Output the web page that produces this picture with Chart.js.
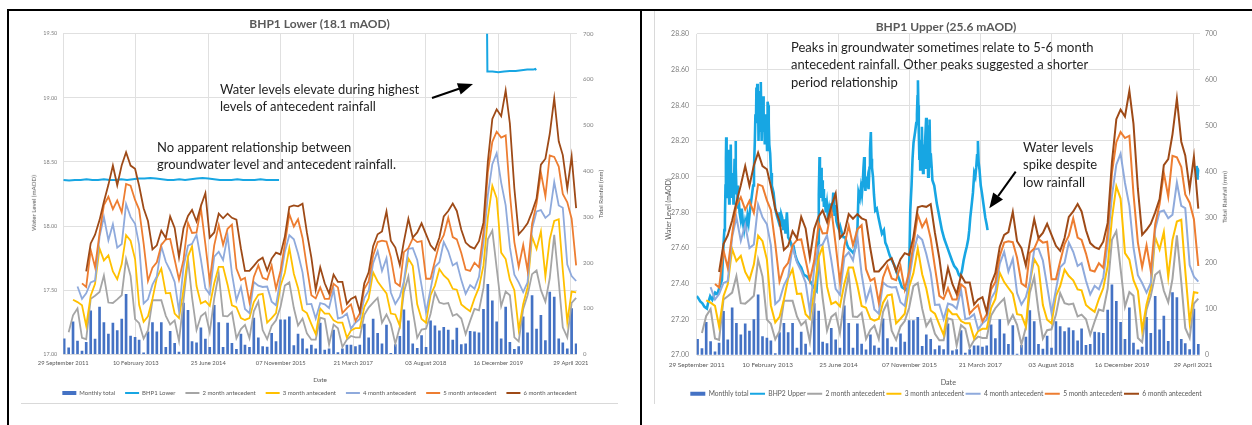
<!DOCTYPE html>
<html>
<head>
<meta charset="utf-8">
<title>BHP1 groundwater levels and antecedent rainfall</title>
<script src="https://cdn.jsdelivr.net/npm/chart.js@4.4.1/dist/chart.umd.min.js"></script>
<style>
  html, body { margin:0; padding:0; background:#fff; }
  body { position:relative; width:1252px; height:425px; overflow:hidden; font-family:Lato, "Open Sans", sans-serif; }
  .rule { position:absolute; background:#000; }
  .edge { position:absolute; background:#d9d9d9; }
  canvas { position:absolute; }
  .note { position:absolute; font-family:Lato, sans-serif; font-size:13px; line-height:17.3px; color:#1f1f1f; white-space:nowrap; }
  .axt { position:absolute; white-space:nowrap; color:#595959; line-height:1; font-family:Lato, sans-serif; transform:translate(-50%,-50%) rotate(-90deg); }
  svg.arrows { position:absolute; left:0; top:0; }
</style>
</head>
<body>
<div class="rule" style="left:7px;top:9px;width:1245px;height:2px"></div>
<div class="rule" style="left:7px;top:9px;width:2px;height:416px"></div>
<div class="rule" style="left:640px;top:9px;width:2px;height:416px"></div>
<div class="edge" style="left:21px;top:403px;width:597px;height:1px"></div>
<div class="edge" style="left:654px;top:11px;width:1px;height:393px"></div>

<canvas id="lower" width="597" height="395" style="left:21px;top:11px"></canvas>
<canvas id="upper" width="584" height="396" style="left:654px;top:11px"></canvas>

<div class="axt" style="left:34px;top:203px;font-size:6.2px">Water Level (mAOD)</div>
<div class="axt" style="left:601px;top:194px;font-size:6px">Total Rainfall (mm)</div>
<div class="axt" style="left:668px;top:209px;font-size:6.8px">Water Level (mAOD)</div>
<div class="axt" style="left:1225px;top:197px;font-size:6.5px">Total Rainfall (mm)</div>

<div class="note" style="left:220px;top:81px">Water levels elevate during highest<br>levels of antecedent rainfall</div>
<div class="note" style="left:157px;top:139px">No apparent relationship between<br>groundwater level and antecedent rainfall.</div>
<div class="note" style="left:791px;top:39px">Peaks in groundwater sometimes relate to 5-6 month<br>antecedent rainfall. Other peaks suggested a shorter<br>period relationship</div>
<div class="note" style="left:1023px;top:139px">Water levels<br>spike despite<br>low rainfall</div>

<svg class="arrows" width="1252" height="425">
  <line x1="432" y1="98" x2="459" y2="88.8" stroke="#000" stroke-width="2"/>
  <polygon points="473,84 460.7,94.5 456.9,83.2" fill="#000"/>
  <line x1="1015.7" y1="171.7" x2="998.1" y2="196.1" stroke="#000" stroke-width="2"/>
  <polygon points="989.3,208.3 1003,199.6 993.2,192.6" fill="#000"/>
</svg>

<script>
// ---- x axis: days since 29 September 2011, major unit 500 days ----
const TICK_STEP_DAYS = 500;
const tickLabels = ['29 September 2011','10 February 2013','25 June 2014','07 November 2015',
                    '21 March 2017','03 August 2018','16 December 2019','29 April 2021'];
const AXIS_START = Date.UTC(2011, 8, 29);
const FIRST_MONTH = { year: 2011, month: 9 };   // October 2011

// ---- monthly rainfall total (mm), Oct 2011 .. Jun 2021 ----
const monthlyRain = [34,14,71,29,7,26,95,33,103,69,
  44,68,52,77,131,40,37,31,3,49,
  69,49,69,15,50,24,5,112,96,28,
  25,58,33,15,107,69,15,68,24,11,
  44,20,15,79,36,17,16,46,28,75,
  75,82,19,44,34,12,20,12,68,9,
  12,53,4,12,20,20,17,20,66,36,
  77,46,23,64,2,21,39,97,73,23,
  13,41,15,73,62,51,59,53,31,57,
  21,23,50,49,47,98,153,117,71,34,
  103,26,11,17,82,47,128,55,85,30,
  136,125,34,25,12,100,23];

// ---- antecedent rainfall (mm) ----
const ante2 = [null,48,85,100,36,33,121,128,136,172,
  113,112,120,129,208,171,77,68,34,52,
  118,118,118,84,65,74,29,117,208,124,
  53,83,91,48,122,176,84,83,92,35,
  55,64,35,94,115,53,33,62,74,103,
  150,157,101,63,78,46,32,32,80,77,
  21,65,57,16,32,40,37,37,86,102,
  113,123,69,87,66,23,60,136,170,96,
  36,54,56,88,135,113,110,112,84,88,
  78,44,73,99,96,145,251,270,188,105,
  137,129,37,28,99,129,175,183,140,115,
  166,261,159,59,37,112,123];
const ante3 = [null,null,119,114,107,62,128,154,231,205,
  216,181,164,197,260,248,208,108,71,83,
  121,167,187,133,134,89,79,141,213,236,
  149,111,116,106,155,191,191,152,107,103,
  79,75,79,114,130,132,69,79,90,149,
  178,232,176,145,97,90,66,44,100,89,
  89,74,69,69,36,52,57,57,103,122,
  179,159,146,133,89,87,62,157,209,193,
  109,77,69,129,150,186,172,163,143,141,
  109,101,94,122,146,194,298,368,341,222,
  208,163,140,54,110,146,257,230,268,170,
  251,291,295,184,71,137,135];
const ante4 = [null,null,null,148,121,133,157,161,257,300,
  249,284,233,241,328,300,285,239,111,120,
  152,170,236,202,183,158,94,191,237,241,
  261,207,144,131,213,224,206,259,176,118,
  147,99,90,158,150,147,148,115,107,165,
  224,260,251,220,179,109,110,78,112,109,
  101,142,78,81,89,56,69,77,123,139,
  199,225,182,210,135,110,126,159,230,232,
  206,150,92,142,191,201,245,225,194,200,
  162,132,151,143,169,244,347,415,439,375,
  325,234,174,157,136,157,274,312,315,298,
  306,376,325,320,196,171,160];
const ante5 = [null,null,null,null,155,147,228,190,264,326,
  344,317,336,310,372,368,337,316,242,160,
  189,201,239,251,252,207,163,206,287,265,
  266,319,240,159,238,282,239,274,283,187,
  162,167,114,169,194,167,163,194,143,182,
  240,306,279,295,254,191,129,122,146,121,
  121,154,146,90,101,109,73,89,143,159,
  216,245,248,246,212,156,149,223,232,253,
  245,247,165,165,204,242,260,298,256,251,
  221,185,182,200,190,267,397,464,486,473,
  478,351,245,191,239,183,285,329,397,345,
  434,431,410,350,332,296,194];
const ante6 = [null,null,null,null,null,181,242,261,293,333,
  370,412,369,413,441,412,405,368,319,291,
  229,238,270,254,301,276,212,275,302,315,
  290,324,352,255,266,307,297,307,298,294,
  231,182,182,193,205,211,183,209,222,218,
  257,322,325,323,329,266,211,141,190,155,
  133,174,158,158,110,121,126,93,155,179,
  236,262,268,312,248,233,195,246,296,255,
  266,286,262,238,227,255,301,313,329,313,
  272,244,235,231,247,288,420,514,535,520,
  576,504,362,262,273,286,311,340,414,427,
  481,559,465,435,362,432,319];

// ---- groundwater level readings [day since 29 Sep 2011, level mAOD] ----
const lowerReadings = [[0,18.36],[40,18.355],[80,18.36],[120,18.36],[160,18.365],[200,18.36],[240,18.36],
  [280,18.365],[320,18.36],[360,18.36],[400,18.365],[440,18.36],[480,18.365],[520,18.37],[560,18.37],
  [600,18.375],[640,18.37],[680,18.365],[720,18.36],[760,18.36],[800,18.365],[840,18.36],[880,18.365],
  [920,18.37],[960,18.375],[1000,18.37],[1040,18.365],[1080,18.36],[1120,18.36],[1160,18.36],[1200,18.365],
  [1240,18.36],[1280,18.36],[1320,18.36],[1360,18.365],[1400,18.36],[1440,18.36],[1488,18.36],
  [2200,null],
  [2922,19.62],[2925,19.205],[2960,19.205],[3000,19.2],[3040,19.205],[3080,19.21],[3120,19.21],
  [3160,19.215],[3200,19.22],[3240,19.22],[3255,19.225],[3261,19.215]];

const upperReadings = [[0,27.33],[10,27.32],[25,27.3],[40,27.29],[55,27.27],[72,27.26],[80,27.29],[95,27.33],
  [110,27.31],[130,27.35],[145,27.34],[161,27.38],[170,27.4],[178,27.42],[185,27.55],[189,27.62],[195,27.7],
  [199,27.76],[203,27.95],[206,28.1],[208,28.22],[211,28.05],[214,27.92],[217,28.0],[220,27.88],[223,28.15],
  [226,27.95],[229,27.85],[232,28.0],[236,27.9],[240,28.18],[243,27.98],[247,27.88],[251,27.92],[255,28.02],
  [259,27.85],[263,27.95],[267,28.1],[271,27.92],[274,28.2],[277,28.05],[281,27.9],[285,27.95],[290,27.82],
  [296,27.88],[302,27.8],[310,27.76],[318,27.82],[326,27.74],[334,27.7],[342,27.75],[350,27.72],[358,27.78],
  [366,27.74],[374,27.8],[382,27.85],[390,27.9],[398,27.95],[404,28.05],[410,28.2],[414,28.35],[418,28.3],
  [421,28.5],[424,28.38],[427,28.52],[430,28.3],[433,28.42],[436,28.2],[440,28.38],[443,28.25],[446,28.48],
  [449,28.3],[452,28.53],[455,28.35],[458,28.2],[461,28.4],[464,28.28],[468,28.45],[472,28.25],[476,28.32],
  [480,28.18],[484,28.35],[488,28.22],[492,28.3],[496,28.15],[500,28.42],[504,28.4],[508,28.3],[512,28.18],
  [518,28.13],[524,28.02],[530,27.95],[542,27.91],[554,27.82],[566,27.78],[577,27.75],[585,27.8],[590,27.72],
  [596,27.79],[603,27.77],[610,27.7],[618,27.76],[626,27.68],[636,27.8],[645,27.66],[659,27.64],[670,27.61],
  [683,27.61],[695,27.56],[707,27.53],[720,27.51],[737,27.49],[755,27.45],[777,27.44],[795,27.42],[810,27.4],
  [824,27.38],[835,27.37],[845,27.36],[852,27.45],[857,27.63],[861,27.9],[866,28.11],[869,27.95],[873,27.88],
  [877,28.05],[881,27.91],[885,27.98],[889,27.86],[893,27.93],[897,27.83],[903,27.88],[910,27.8],[918,27.85],
  [925,27.78],[933,27.82],[941,27.77],[948,27.85],[955,27.8],[963,27.91],[968,27.85],[972,27.78],[977,27.84],
  [985,27.75],[995,27.72],[1005,27.7],[1012,27.72],[1025,27.68],[1035,27.66],[1047,27.66],[1060,27.62],
  [1070,27.6],[1083,27.59],[1095,27.58],[1105,27.57],[1118,27.6],[1126,27.65],[1134,27.72],[1141,27.91],
  [1150,27.88],[1158,27.94],[1165,27.9],[1172,27.98],[1176,28.05],[1181,28.11],[1185,27.96],[1190,27.92],
  [1195,28.0],[1199,27.94],[1205,27.98],[1212,27.93],[1218,28.05],[1222,28.15],[1228,28.25],[1232,28.1],
  [1236,28.05],[1243,28.0],[1250,27.9],[1259,27.81],[1270,27.82],[1282,27.77],[1295,27.72],[1306,27.68],
  [1320,27.7],[1330,27.63],[1341,27.61],[1360,27.56],[1377,27.53],[1395,27.5],[1412,27.46],[1430,27.42],
  [1447,27.38],[1465,27.37],[1483,27.36],[1493,27.4],[1500,27.55],[1506,27.81],[1515,27.95],[1522,28.1],
  [1529,28.19],[1540,28.25],[1548,28.3],[1553,28.35],[1557,28.45],[1560,28.54],[1563,28.4],[1566,28.25],
  [1570,28.1],[1573,28.2],[1576,28.04],[1580,28.15],[1584,28.2],[1588,28.28],[1592,28.12],[1596,28.02],
  [1600,28.18],[1604,28.05],[1608,28.12],[1612,28.22],[1618,28.33],[1622,28.1],[1625,28.05],[1628,28.15],
  [1632,28.0],[1636,28.2],[1639,28.28],[1642,28.32],[1646,28.12],[1649,28.05],[1652,28.13],[1657,28.05],
  [1662,27.98],[1666,27.98],[1675,27.95],[1682,27.91],[1693,27.85],[1705,27.8],[1717,27.75],[1729,27.7],
  [1746,27.65],[1764,27.61],[1782,27.57],[1800,27.53],[1815,27.5],[1835,27.48],[1848,27.45],[1858,27.44],
  [1870,27.47],[1882,27.53],[1893,27.57],[1905,27.61],[1915,27.65],[1922,27.7],[1929,27.77],[1940,27.85],
  [1948,27.91],[1957,28.02],[1965,28.0],[1971,28.05],[1977,28.12],[1983,28.2],[1988,28.08],[1994,28.04],
  [2003,27.95],[2011,27.91],[2023,27.84],[2035,27.77],[2045,27.73],[2051,27.7],
  [2800,null],
  [3526,28.06],[3529,27.99],[3531,28.05],[3533,28.0],[3536,28.04]];

// ---- styling ----
const COLORS = { rain:'#4472C4', gw:'#17A6E3', a2:'#A5A5A5', a3:'#FFC000', a4:'#8FAADC', a5:'#ED7D31', a6:'#9E4A17' };
const GRID = '#e0e0e0';
const TEXT = '#595959';
Chart.defaults.font.family = 'Lato, "Open Sans", sans-serif';

const DAY_MS = 86400000;
const monthX = monthlyRain.map((_, i) =>
  (Date.UTC(FIRST_MONTH.year, FIRST_MONTH.month + i, 5) - AXIS_START) / DAY_MS);
const monthPoints = values => values.map((v, i) => ({ x: monthX[i], y: v }));
const readingPoints = rows => rows.map(([d, v]) => ({ x: d, y: v }));

function anteDataset(label, values, color, order, width) {
  return { type:'line', label, data: monthPoints(values), yAxisID:'y1', borderColor:color, backgroundColor:color,
           borderWidth:width, pointRadius:0, pointHoverRadius:0, pointBorderWidth:2, pointStyle:'line',
           tension:0, order };
}

function buildChart(id, o) {
  return new Chart(document.getElementById(id), {
    type: 'bar',
    data: { datasets: [
      { type:'bar', label:'Monthly total', data: monthPoints(monthlyRain), yAxisID:'y1',
        backgroundColor:COLORS.rain, borderWidth:0, barThickness:2, pointStyle:'rect', order:7 },
      { type:'line', label:o.gwLabel, data: readingPoints(o.gwReadings), yAxisID:'y',
        borderColor:COLORS.gw, backgroundColor:COLORS.gw, borderWidth:o.gwWidth, pointRadius:0, pointHoverRadius:0,
        pointBorderWidth:2, pointStyle:'line', tension:0, spanGaps:false, order:6 },
      anteDataset('2 month antecedent', ante2, COLORS.a2, 5, o.lineWidth),
      anteDataset('3 month antecedent', ante3, COLORS.a3, 4, o.lineWidth),
      anteDataset('4 month antecedent', ante4, COLORS.a4, 3, o.lineWidth),
      anteDataset('5 month antecedent', ante5, COLORS.a5, 2, o.lineWidth),
      anteDataset('6 month antecedent', ante6, COLORS.a6, 1, o.lineWidth)
    ]},
    options: {
      responsive:false, animation:false, devicePixelRatio:1,
      layout:{ padding:0 },
      plugins:{
        title:{ display:true, text:o.title, color:TEXT, font:{ size:12, weight:'bold' }, padding:o.titlePad },
        legend:{ position:'bottom', labels:{ usePointStyle:true, pointStyleWidth:o.legendBox, boxHeight:4,
                 padding:o.legendPad, color:TEXT, font:{ size:o.legendSize },
                 sort:(a, b) => a.datasetIndex - b.datasetIndex } },
        tooltip:{ enabled:false }
      },
      scales:{
        x:{ type:'linear', min:0, max:o.xMax, offset:false,
            grid:{ color:GRID, drawTicks:false, offset:false }, border:{ display:false },
            afterBuildTicks: s => { s.ticks = tickLabels.map((_, i) => ({ value: i * TICK_STEP_DAYS })); },
            afterFit: s => { s.height = o.xHeight; },
            ticks:{ autoSkip:false, maxRotation:0, minRotation:0, padding:o.xTickPad, color:TEXT,
                    font:{ size:o.xTickSize }, callback: v => tickLabels[Math.round(v / TICK_STEP_DAYS)] ?? '' },
            title:{ display:true, text:'Date', color:TEXT, font:{ size:o.dateSize }, padding:{ top:0, bottom:o.datePad } } },
        y:{ position:'left', min:o.yMin, max:o.yMax,
            grid:{ color:GRID, drawTicks:false }, border:{ display:false },
            afterFit: s => { s.width = o.yWidth; },
            ticks:{ stepSize:o.yStep, padding:o.yTickPad, color:'#808080', font:{ size:o.yTickSize },
                    callback: v => Number(v).toFixed(2) } },
        y1:{ position:'right', min:0, max:700,
             grid:{ drawOnChartArea:false, drawTicks:false }, border:{ display:false },
             afterFit: s => { s.width = o.y1Width; },
             ticks:{ stepSize:100, padding:o.y1TickPad, color:'#808080', font:{ size:o.y1TickSize } } }
      }
    }
  });
}

buildChart('lower', {
  title:'BHP1 Lower (18.1 mAOD)', gwLabel:'BHP1 Lower', gwReadings:lowerReadings, gwWidth:2, lineWidth:1.8,
  titlePad:{ top:6.2, bottom:2.1 }, legendBox:14, legendPad:10, legendSize:6,
  xMax:3543, xHeight:25.7, xTickPad:5.5, xTickSize:5.8, dateSize:6.5, datePad:-3.9,
  yMin:17, yMax:19.5, yStep:0.5, yWidth:42.3, yTickPad:6, yTickSize:5.5,
  y1Width:41, y1TickPad:6, y1TickSize:6
});

buildChart('upper', {
  title:'BHP1 Upper (25.6 mAOD)', gwLabel:'BHP2 Upper', gwReadings:upperReadings, gwWidth:2.6, lineWidth:2,
  titlePad:{ top:8.5, bottom:0 }, legendBox:15, legendPad:1.5, legendSize:6.7,
  xMax:3549, xHeight:33.8, xTickPad:6.2, xTickSize:6.4, dateSize:7.2, datePad:2.2,
  yMin:27, yMax:28.8, yStep:0.2, yWidth:42.7, yTickPad:7.7, yTickSize:7,
  y1Width:38, y1TickPad:5, y1TickSize:6.9
});
</script>
</body>
</html>
